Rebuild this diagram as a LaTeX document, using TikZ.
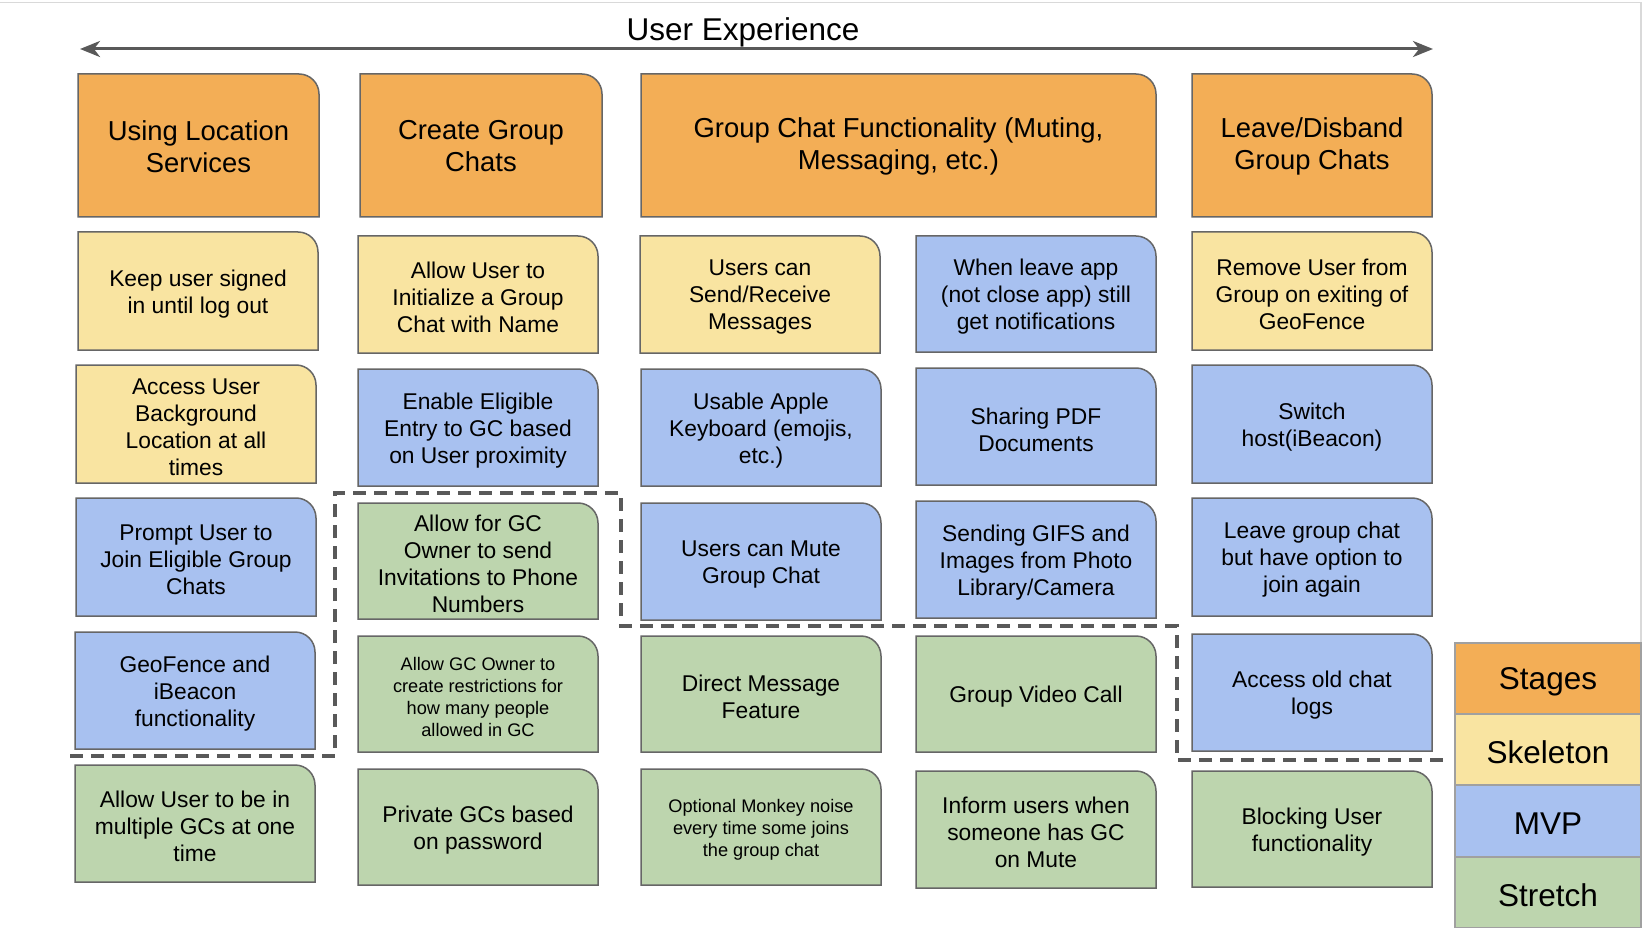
\documentclass[tikz,border=0pt]{standalone}
\usepackage{fontspec}
\setmainfont{Liberation Sans}
\usetikzlibrary{arrows.meta,backgrounds}
\definecolor{cstage}{RGB}{243,174,86}
\definecolor{cskel}{RGB}{249,228,161}
\definecolor{cmvp}{RGB}{168,193,240}
\definecolor{cstretch}{RGB}{189,213,174}
\definecolor{cline}{RGB}{102,102,102}
\definecolor{cdash}{RGB}{89,89,89}
\definecolor{clegline}{RGB}{160,160,160}
\definecolor{cframe}{RGB}{217,217,217}
\newcommand{\headf}{\fontsize{27.4}{32}\selectfont}
\newcommand{\bodyf}{\fontsize{22.8}{27}\selectfont}
\newcommand{\smallf}{\fontsize{18.2}{22}\selectfont}
\newcommand{\legf}{\fontsize{31.5}{36}\selectfont}
\newcommand{\titlef}{\fontsize{31.5}{36}\selectfont}
\newcommand{\txtshift}{3}
\tikzset{
  boxtext/.style={inner sep=0pt, align=center, text=black},
  boxline/.style={draw=cline, line width=1.5pt},
  leg/.style={draw=clegline, line width=1.5pt, inner sep=0pt},
  legtext/.style={inner sep=0pt, font=\legf, text=black},
  dashline/.style={draw=cdash, line width=3.2pt, dash pattern=on 13pt off 8pt},
  uxarrow/.style={draw=cdash, line width=3pt, {Stealth[length=20pt,width=16pt,inset=6pt]}-{Stealth[length=20pt,width=16pt,inset=6pt]}}
}
\newcommand{\storybox}[8]{%
  \node[boxtext, font=#7] (#1) at ({(#2+#4)/2},{(#3+#5)/2+\txtshift}) {#8};
  \begin{pgfonlayer}{background}
    \draw[boxline, fill=#6] (#2,#5) -- (#2,#3) -- ({#4-20},#3) arc[start angle=90,end angle=0,radius=20pt] -- (#4,#5) -- cycle;
  \end{pgfonlayer}%
}
\newcommand{\legbox}[5]{%
  \draw[leg, fill=#4] (1455,#2) rectangle (1641,#3);
  \node[legtext] (#1) at (1548,{(#2+#3)/2+3}) {#5};
}
\begin{document}
\begin{tikzpicture}[x=1pt,y=-1pt]
\useasboundingbox (0,0) rectangle (1642,928);
\begin{pgfonlayer}{background}
\fill[white] (0,0) rectangle (1642,928);
\end{pgfonlayer}
% frame
\draw[cframe, line width=1.5pt] (0,2.5) -- (1641,2.5) -- (1641,643);
% title and arrow
\node[boxtext, font=\titlef, anchor=base] (title) at (743,41) {User Experience};
\coordinate (al) at (80,49);
\coordinate (ar) at (1433,49);
\draw[uxarrow] (al) -- (ar);
% headers
\renewcommand{\txtshift}{1}
\storybox{h1}{78}{74}{319}{217}{cstage}{\headf}{Using Location\\Services}
\storybox{h2}{360}{74}{602}{217}{cstage}{\headf}{Create Group\\Chats}
\storybox{h3}{641}{74}{1156}{217}{cstage}{\headf}{Group Chat Functionality (Muting,\\Messaging, etc.)}
\storybox{h4}{1192}{74}{1432}{217}{cstage}{\headf}{Leave/Disband\\Group Chats}
\renewcommand{\txtshift}{3}
% column 1
\storybox{a1}{78}{232}{318}{350}{cskel}{\bodyf}{Keep user signed\\in until log out}
\storybox{a2}{76}{365}{316}{483}{cskel}{\bodyf}{Access User\\Background\\Location at all\\times}
\storybox{a3}{76}{498}{316}{616}{cmvp}{\bodyf}{Prompt User to\\Join Eligible Group\\Chats}
\storybox{a4}{75}{632}{315}{749}{cmvp}{\bodyf}{GeoFence and\\iBeacon\\functionality}
\storybox{a5}{75}{765}{315}{882}{cstretch}{\bodyf}{Allow User to be in\\multiple GCs at one\\time}
% column 2
\storybox{b1}{358}{236}{598}{353}{cskel}{\bodyf}{Allow User to\\Initialize a Group\\Chat with Name}
\storybox{b2}{358}{369}{598}{486}{cmvp}{\bodyf}{Enable Eligible\\Entry to GC based\\on User proximity}
\storybox{b3}{358}{503}{598}{619}{cstretch}{\bodyf}{Allow for GC\\Owner to send\\Invitations to Phone\\Numbers}
\storybox{b4}{358}{636}{598}{752}{cstretch}{\smallf}{Allow GC Owner to\\create restrictions for\\how many people\\allowed in GC}
\storybox{b5}{358}{769}{598}{885}{cstretch}{\bodyf}{Private GCs based\\on password}
% column 3
\storybox{c1}{640}{236}{880}{353}{cskel}{\bodyf}{Users can\\Send/Receive\\Messages}
\storybox{c2}{641}{369}{881}{486}{cmvp}{\bodyf}{Usable Apple\\Keyboard (emojis,\\etc.)}
\storybox{c3}{641}{503}{881}{620}{cmvp}{\bodyf}{Users can Mute\\Group Chat}
\storybox{c4}{641}{636}{881}{752}{cstretch}{\bodyf}{Direct Message\\Feature}
\storybox{c5}{641}{769}{881}{885}{cstretch}{\smallf}{Optional Monkey noise\\every time some joins\\the group chat}
% column 4
\storybox{d1}{916}{236}{1156}{352}{cmvp}{\bodyf}{When leave app\\(not close app) still\\get notifications}
\storybox{d2}{916}{368}{1156}{485}{cmvp}{\bodyf}{Sharing PDF\\Documents}
\storybox{d3}{916}{501}{1156}{618}{cmvp}{\bodyf}{Sending GIFS and\\Images from Photo\\Library/Camera}
\storybox{d4}{916}{636}{1156}{752}{cstretch}{\bodyf}{Group Video Call}
\storybox{d5}{916}{771}{1156}{888}{cstretch}{\bodyf}{Inform users when\\someone has GC\\on Mute}
% column 5
\storybox{e1}{1192}{232}{1432}{350}{cskel}{\bodyf}{Remove User from\\Group on exiting of\\GeoFence}
\storybox{e2}{1192}{365}{1432}{483}{cmvp}{\bodyf}{Switch\\host(iBeacon)}
\storybox{e3}{1192}{498}{1432}{616}{cmvp}{\bodyf}{Leave group chat\\but have option to\\join again}
\storybox{e4}{1192}{634}{1432}{751}{cmvp}{\bodyf}{Access old chat\\logs}
\storybox{e5}{1192}{771}{1432}{887}{cstretch}{\bodyf}{Blocking User\\functionality}
% dashed separator
\draw[dashline] (70,756) -| (335,493) -| (621,626) -| (1177,760) -- (1443,760);
% legend
\legbox{lstage}{643}{714}{cstage}{Stages}
\legbox{lskel}{714}{785}{cskel}{Skeleton}
\legbox{lmvp}{785}{857}{cmvp}{MVP}
\legbox{lstretch}{857}{927.5}{cstretch}{Stretch}
\end{tikzpicture}
\end{document}
